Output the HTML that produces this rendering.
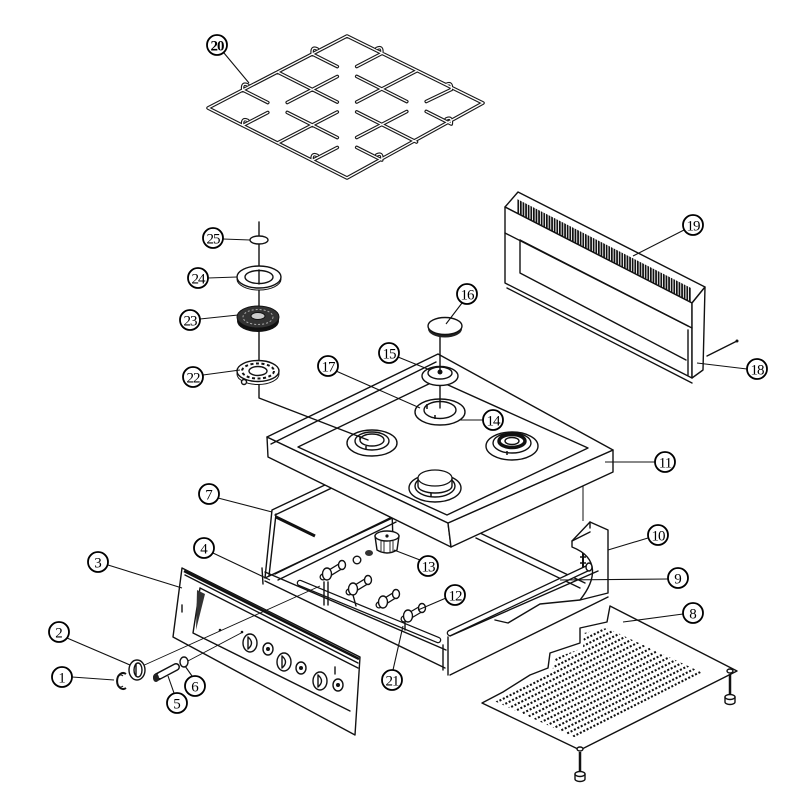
<!DOCTYPE html>
<html><head><meta charset="utf-8">
<style>
html,body{margin:0;padding:0;background:#fff;width:800px;height:800px;overflow:hidden}
svg{display:block}
.l{fill:none;stroke:#111;stroke-width:1.4;stroke-linejoin:round;stroke-linecap:round}
.w{fill:#fff;stroke:#111;stroke-width:1.4;stroke-linejoin:round}
.th{fill:none;stroke:#111;stroke-width:0.9}
.t{font-family:"Liberation Serif",serif;font-size:15px;text-anchor:middle;fill:#000}
.c{fill:#fff;stroke:#000;stroke-width:1.8}
</style></head><body>
<svg width="800" height="800" viewBox="0 0 800 800" xmlns="http://www.w3.org/2000/svg">
<defs>
 <pattern id="teeth" patternUnits="userSpaceOnUse" width="2.6" height="10"><rect width="1.7" height="10" fill="#111"/></pattern>
 <clipPath id="pc"><polygon points="607,628 720,681 585,742 492,700 505,694 532,680 552,672 555,658 583,648 584,633"/></clipPath>
 <path id="gr" d="M208,108 L347,36 L483,103 L347,178 Z
 M277.5,72 L337.3,102.1 M356.7,111.9 L416.5,142 M277.5,143 L337.3,112 M356.7,102 L416.5,71
 M242.75,90 L267.8,102.6 M287.2,112.4 L312.3,125 M242.75,125.5 L267.8,112.5 M287.2,102.5 L312.3,89.5
 M312.25,54 L337.3,66.6 M356.7,76.4 L381.75,89 M312.3,89.5 L337.3,76.5 M356.7,66.5 L381.75,53.5
 M312.3,125 L337.3,137.6 M356.7,147.4 L381.75,160 M312.25,160.5 L337.3,147.5 M356.7,137.5 L381.75,124.5
 M381.75,89 L406.8,101.6 M426.2,111.4 L451.25,124 M381.75,124.5 L406.8,111.5 M426.2,101.5 L451.25,89.5
 M242.75,90 q-1,-8 5,-5 M312.25,54 q-1,-8 5,-5 M381.75,53.5 q1,-8 -5,-5 M451.25,89.5 q1,-8 -5,-5
 M242.75,125.5 q-1,-8 5,-5 M312.25,160.5 q-1,-8 5,-5 M381.75,160 q1,-8 -5,-5 M451.25,124 q1,-8 -5,-5"/>
</defs>
<rect width="800" height="800" fill="#fff"/>

<!-- ===== GRATE 20 ===== -->
<use href="#gr" fill="none" stroke="#1a1a1a" stroke-width="3.6" stroke-linecap="round" stroke-linejoin="round"/>
<use href="#gr" fill="none" stroke="#fff" stroke-width="1.3" stroke-linecap="round" stroke-linejoin="round"/>

<!-- ===== BASE PLATE 8 ===== -->
<polygon class="w" points="610,606 737,671 580,750 482,703 503,692 530,675 548,668 550,653 580,643 580,628 607,622"/>
<g clip-path="url(#pc)">
 <g transform="translate(582,732) rotate(-26.9)" stroke="#111" stroke-width="2.1" stroke-dasharray="2 1.8" fill="none">
  <line x1="-200" y1="0" x2="200" y2="0"/>
  <line x1="-200" y1="-5.44" x2="200" y2="-5.44"/>
  <line x1="-200" y1="-10.88" x2="200" y2="-10.88"/>
  <line x1="-200" y1="-16.32" x2="200" y2="-16.32"/>
  <line x1="-200" y1="-21.76" x2="200" y2="-21.76"/>
  <line x1="-200" y1="-27.2" x2="200" y2="-27.2"/>
  <line x1="-200" y1="-32.64" x2="200" y2="-32.64"/>
  <line x1="-200" y1="-38.08" x2="200" y2="-38.08"/>
  <line x1="-200" y1="-43.52" x2="200" y2="-43.52"/>
  <line x1="-200" y1="-48.96" x2="200" y2="-48.96"/>
  <line x1="-200" y1="-54.4" x2="200" y2="-54.4"/>
  <line x1="-200" y1="-59.84" x2="200" y2="-59.84"/>
  <line x1="-200" y1="-65.28" x2="200" y2="-65.28"/>
  <line x1="-200" y1="-70.72" x2="200" y2="-70.72"/>
  <line x1="-200" y1="-76.16" x2="200" y2="-76.16"/>
  <line x1="-200" y1="-81.6" x2="200" y2="-81.6"/>
  <line x1="-200" y1="-87.04" x2="200" y2="-87.04"/>
  <line x1="-200" y1="-92.48" x2="200" y2="-92.48"/>
 </g>
</g>
<!-- feet -->
<line x1="730" y1="674" x2="730" y2="696" stroke="#111" stroke-width="2.5"/>
<ellipse cx="730" cy="671" rx="3" ry="2" class="w"/>
<path class="w" d="M725,697 L725,702 A5,2.5 0 0 0 735,702 L735,697 Z"/>
<ellipse cx="730" cy="697" rx="5" ry="2.5" class="w"/>
<line x1="580" y1="752" x2="580" y2="773" stroke="#111" stroke-width="2.5"/>
<ellipse cx="580" cy="749" rx="3" ry="2" class="w"/>
<path class="w" d="M575,774 L575,779 A5,2.5 0 0 0 585,779 L585,774 Z"/>
<ellipse cx="580" cy="774" rx="5" ry="2.5" class="w"/>

<!-- ===== LOWER BOX ===== -->
<polygon class="w" points="272,510 420,440 420,505 265,578"/>
<line class="l" x1="275" y1="515" x2="420" y2="446"/>
<line class="l" x1="276" y1="514" x2="269" y2="576"/>
<line x1="276" y1="517" x2="315" y2="536" stroke="#111" stroke-width="3"/>
<line class="l" x1="275" y1="574" x2="392" y2="517"/>
<line class="l" x1="278" y1="580" x2="396" y2="522"/>
<line class="l" x1="392" y1="512" x2="393" y2="540"/>
<!-- rail under cooktop right -->
<line class="l" x1="480" y1="533" x2="585" y2="583"/>
<line class="l" x1="476" y1="538" x2="580" y2="588"/>
<!-- bracket 10 -->
<path class="w" d="M572,541 L590,522 L608,530 L608,593 L580,600 C596,580 600,558 572,547 Z"/>
<line class="l" x1="590" y1="522" x2="590" y2="528"/>
<line class="l" x1="572" y1="541" x2="590" y2="532"/>
<path class="l" d="M495,620 L508,623 L540,604 L580,600"/>
<!-- screws near bracket -->
<line x1="583" y1="470" x2="583" y2="521" stroke="#111" stroke-width="1"/>
<circle cx="583" cy="470" r="1.5" fill="#111"/>
<line x1="583" y1="553" x2="583" y2="573" stroke="#111" stroke-width="2"/>
<line x1="580" y1="557" x2="586" y2="557" stroke="#111" stroke-width="1.5"/>
<line x1="580" y1="563" x2="586" y2="563" stroke="#111" stroke-width="1.5"/>
<!-- right front wall -->
<line class="l" x1="450" y1="636" x2="598" y2="571"/>
<line class="l" x1="450" y1="675" x2="608" y2="597"/>
<!-- pipe 9 -->
<line x1="450" y1="633" x2="588" y2="568" stroke="#111" stroke-width="6.5" stroke-linecap="round"/>
<line x1="450" y1="633" x2="588" y2="568" stroke="#fff" stroke-width="4" stroke-linecap="round"/>
<ellipse cx="589" cy="567" rx="3" ry="4" class="w"/>
<!-- manifold -->
<line x1="300" y1="583" x2="438" y2="640" stroke="#111" stroke-width="6.5" stroke-linecap="round"/>
<line x1="300" y1="583" x2="438" y2="640" stroke="#fff" stroke-width="4" stroke-linecap="round"/>
<!-- valves -->
<g>
 <line x1="323" y1="577" x2="341" y2="566" stroke="#111" stroke-width="7" stroke-linecap="round"/>
 <line x1="323" y1="577" x2="341" y2="566" stroke="#fff" stroke-width="4.5" stroke-linecap="round"/>
 <ellipse cx="342" cy="565" rx="3.5" ry="4.5" class="w"/>
 <ellipse cx="327" cy="574" rx="4.5" ry="6" class="w"/>
 <line class="l" x1="324" y1="582" x2="324" y2="605"/><line class="l" x1="328" y1="582" x2="328" y2="605"/>
 <line x1="349" y1="592" x2="367" y2="581" stroke="#111" stroke-width="7" stroke-linecap="round"/>
 <line x1="349" y1="592" x2="367" y2="581" stroke="#fff" stroke-width="4.5" stroke-linecap="round"/>
 <ellipse cx="368" cy="580" rx="3.5" ry="4.5" class="w"/>
 <ellipse cx="353" cy="589" rx="4.5" ry="6" class="w"/>
 <line class="l" x1="353" y1="595" x2="356" y2="606"/>
 <line x1="379" y1="605" x2="395" y2="595" stroke="#111" stroke-width="7" stroke-linecap="round"/>
 <line x1="379" y1="605" x2="395" y2="595" stroke="#fff" stroke-width="4.5" stroke-linecap="round"/>
 <ellipse cx="396" cy="594" rx="3.5" ry="4.5" class="w"/>
 <ellipse cx="383" cy="602" rx="4.5" ry="6" class="w"/>
 <line x1="404" y1="619" x2="421" y2="609" stroke="#111" stroke-width="7" stroke-linecap="round"/>
 <line x1="404" y1="619" x2="421" y2="609" stroke="#fff" stroke-width="4.5" stroke-linecap="round"/>
 <ellipse cx="422" cy="608" rx="3.5" ry="4.5" class="w"/>
 <ellipse cx="408" cy="616" rx="4.5" ry="6" class="w"/>
 <line class="l" x1="405" y1="622" x2="405" y2="630"/>
</g>
<!-- part 13 -->
<path class="w" d="M375,536 L377,550 Q387,556 397,550 L399,536 Z"/>
<ellipse cx="387" cy="536" rx="12" ry="5" class="w"/>
<g class="th"><line x1="381" y1="541" x2="381" y2="551"/><line x1="384" y1="541" x2="384" y2="553"/><line x1="390" y1="541" x2="390" y2="553"/><line x1="393" y1="541" x2="393" y2="551"/></g>
<circle cx="387" cy="536" r="1.6" fill="#111"/>
<ellipse cx="369" cy="553" rx="4" ry="3" fill="#333"/>
<circle cx="357" cy="560" r="3.8" class="w"/>
<!-- front rail -->
<line class="l" x1="265" y1="572" x2="446" y2="650"/>
<line class="l" x1="265" y1="581" x2="445" y2="668"/>
<line class="l" x1="262" y1="568" x2="263" y2="584"/>
<line class="l" x1="448" y1="637" x2="448" y2="675"/>
<line class="l" x1="443" y1="645" x2="443" y2="670"/>

<!-- ===== FRONT PANEL 3 ===== -->
<polygon class="w" points="182,568 360,657 355,735 173,637"/>
<line x1="184" y1="571" x2="359" y2="659" stroke="#111" stroke-width="2.5"/>
<line class="l" x1="185" y1="575" x2="358" y2="663"/>
<path class="l" d="M200,588 L358,668 M200,588 L193,633 L350,711"/>
<polygon points="197,590 205,594 196,630" fill="#333"/>
<line class="l" x1="182" y1="605" x2="182" y2="612"/>
<line class="l" x1="335" y1="667" x2="335" y2="674"/>
<circle cx="220" cy="630" r="1.3" fill="#111"/>
<circle cx="242" cy="632" r="1.3" fill="#111"/>
<g>
 <ellipse cx="250" cy="643" rx="7" ry="9" class="w" stroke-width="1.4"/><path class="l" d="M248,637 L248,649 M248,637 Q255,643 248,649"/>
 <ellipse cx="268" cy="649" rx="5" ry="6" class="w" stroke-width="1.8"/><circle cx="268" cy="649" r="2" fill="#111"/>
 <ellipse cx="284" cy="662" rx="7" ry="9" class="w" stroke-width="1.4"/><path class="l" d="M282,656 L282,668 M282,656 Q289,662 282,668"/>
 <ellipse cx="301" cy="668" rx="5" ry="6" class="w" stroke-width="1.8"/><circle cx="301" cy="668" r="2" fill="#111"/>
 <ellipse cx="320" cy="681" rx="7" ry="9" class="w" stroke-width="1.4"/><path class="l" d="M318,675 L318,687 M318,675 Q325,681 318,687"/>
 <ellipse cx="338" cy="685" rx="5" ry="6" class="w" stroke-width="1.8"/><circle cx="338" cy="685" r="2" fill="#111"/>
</g>
<!-- assembly lines -->
<line x1="140" y1="667" x2="320" y2="586" stroke="#111" stroke-width="0.9"/>
<line x1="186" y1="662" x2="243" y2="632" stroke="#111" stroke-width="0.9"/>
<!-- parts 1 2 5 6 -->
<ellipse cx="137" cy="670" rx="8" ry="10" class="w" stroke-width="1.6"/>
<ellipse cx="138" cy="670" rx="4" ry="7" class="l"/>
<line class="l" x1="136" y1="664" x2="136" y2="676"/>
<path d="M126,674 A6,8 0 1 0 126,688" fill="none" stroke="#111" stroke-width="2"/>
<path d="M123,676 A4,6 0 1 0 123,686" fill="none" stroke="#111" stroke-width="1"/>
<line x1="157" y1="677" x2="176" y2="667" stroke="#111" stroke-width="8" stroke-linecap="round"/>
<line x1="160" y1="675.5" x2="176" y2="667" stroke="#fff" stroke-width="5" stroke-linecap="round"/>
<ellipse cx="156" cy="678" rx="3" ry="4" fill="#222"/>
<ellipse cx="184" cy="662" rx="4" ry="5" class="w" stroke-width="2"/>

<!-- ===== COOKTOP 11 ===== -->
<polygon class="w" points="267,437 448,523 451,547 268,457"/>
<polygon class="w" points="448,523 613,450 613,472 451,547"/>
<polygon class="w" points="267,437 438,354 613,450 448,523"/>
<line class="l" x1="271" y1="444" x2="436" y2="362"/>
<path class="l" d="M298,447 L437,380 L588,448 L447,515 Z"/>
<!-- left burner -->
<ellipse cx="372" cy="443" rx="25" ry="13" class="w"/>
<ellipse cx="372" cy="441" rx="17" ry="9" class="w"/>
<ellipse cx="372" cy="440" rx="12" ry="6" class="l"/>
<line x1="366" y1="446" x2="366" y2="450" stroke="#111" stroke-width="1.5"/>
<line x1="360" y1="436" x2="360" y2="440" stroke="#111" stroke-width="1.5"/>
<!-- back burner 14 -->
<ellipse cx="440" cy="412" rx="25" ry="13" class="w"/>
<ellipse cx="440" cy="410" rx="16" ry="8.5" class="w"/>
<line x1="435" y1="415" x2="435" y2="419" stroke="#111" stroke-width="1.5"/>
<line x1="427" y1="404" x2="427" y2="409" stroke="#111" stroke-width="1.5"/>
<!-- right burner -->
<ellipse cx="512" cy="446" rx="26" ry="14" class="w"/>
<ellipse cx="512" cy="443" rx="19" ry="10" class="w"/>
<ellipse cx="512" cy="441" rx="13" ry="6.5" fill="none" stroke="#111" stroke-width="3.5"/>
<ellipse cx="512" cy="441" rx="7" ry="3.5" class="l"/>
<line x1="507" y1="451" x2="507" y2="455" stroke="#111" stroke-width="1.5"/>
<!-- front burner -->
<ellipse cx="435" cy="488" rx="26" ry="14" class="w"/>
<ellipse cx="435" cy="486" rx="20" ry="11" class="w"/>
<path class="w" d="M418,478 L418,486 A17,7 0 0 0 452,486 L452,478 Z"/>
<ellipse cx="435" cy="478" rx="17" ry="8" fill="#fff" stroke="#111" stroke-width="1.2"/>
<line x1="431" y1="493" x2="431" y2="497" stroke="#111" stroke-width="1.5"/>
<!-- burner 15 -->
<ellipse cx="440" cy="376" rx="18" ry="9.5" class="w" stroke-width="1.6"/>
<ellipse cx="440" cy="373" rx="12" ry="6" class="w"/>
<circle cx="440" cy="372" r="2.5" fill="#111"/>
<line class="l" x1="440" y1="334" x2="440" y2="370"/>
<line class="l" x1="440" y1="386" x2="440" y2="408"/>

<!-- ===== BURNER STACK ===== -->
<path class="l" d="M259,222 L259,398 L368,440" stroke-width="1"/>
<ellipse cx="259" cy="240" rx="9" ry="4" class="w"/>
<ellipse cx="259" cy="279" rx="22" ry="11" fill="#fff" stroke="#111" stroke-width="1"/>
<ellipse cx="259" cy="277" rx="22" ry="11" class="w"/>
<ellipse cx="259" cy="277" rx="14" ry="6.5" class="w"/>
<line class="l" x1="259" y1="270" x2="259" y2="284"/>
<ellipse cx="258" cy="321" rx="21" ry="11" fill="#111"/>
<ellipse cx="258" cy="317" rx="21" ry="11" fill="#333" stroke="#111"/>
<ellipse cx="258" cy="317" rx="15" ry="7.5" fill="none" stroke="#aaa" stroke-width="1" stroke-dasharray="2 2"/>
<ellipse cx="258" cy="316" rx="7" ry="3.5" fill="#ccc" stroke="#111"/>
<ellipse cx="258" cy="374" rx="21" ry="10.5" fill="#fff" stroke="#111" stroke-width="1"/>
<ellipse cx="258" cy="371" rx="21" ry="10.5" class="w" stroke-width="1.5"/>
<ellipse cx="258" cy="371" rx="16" ry="7.5" fill="none" stroke="#111" stroke-width="2" stroke-dasharray="3 2.5"/>
<ellipse cx="258" cy="371" rx="9" ry="4.5" class="w"/>
<circle cx="244" cy="382" r="2.5" class="w"/>
<!-- disc 16 -->
<ellipse cx="445" cy="329" rx="17" ry="8.5" fill="#222"/>
<ellipse cx="445" cy="326" rx="17" ry="8.5" class="w"/>

<!-- ===== BACK PANEL 19 ===== -->
<polygon class="w" points="505,207 518,192 705,287 692,303"/>
<polygon class="w" points="505,207 692,303 692,378 505,283"/>
<polygon class="w" points="692,303 705,287 703,370 692,378"/>
<polygon points="517,199 691,288 691,302 517,213" fill="url(#teeth)"/>
<line class="l" x1="505" y1="233" x2="692" y2="328"/>
<path class="l" d="M520,240 L688,326 M520,240 L520,273 L686,360"/>
<line class="l" x1="507" y1="288" x2="692" y2="383"/>
<line class="l" x1="688" y1="330" x2="688" y2="375"/>
<line class="l" x1="707" y1="356" x2="737" y2="341"/>
<circle cx="737" cy="341" r="1.5" fill="#111"/>

<!-- ===== LEADERS ===== -->
<g stroke="#111" stroke-width="1.1" fill="none">
 <line x1="224" y1="53" x2="249" y2="83"/>
 <line x1="223" y1="239" x2="250" y2="240"/>
 <line x1="208" y1="278" x2="237" y2="277"/>
 <line x1="200" y1="319" x2="238" y2="315"/>
 <line x1="203" y1="375" x2="240" y2="370"/>
 <line x1="462" y1="303" x2="446" y2="324"/>
 <line x1="398" y1="357" x2="430" y2="370"/>
 <line x1="336" y1="371" x2="420" y2="408"/>
 <line x1="483" y1="420" x2="460" y2="420"/>
 <line x1="684" y1="230" x2="633" y2="256"/>
 <line x1="747" y1="369" x2="697" y2="363"/>
 <line x1="655" y1="462" x2="605" y2="462"/>
 <line x1="218" y1="498" x2="272" y2="512"/>
 <line x1="648" y1="538" x2="608" y2="550"/>
 <line x1="420" y1="560" x2="394" y2="550"/>
 <line x1="213" y1="553" x2="270" y2="580"/>
 <line x1="668" y1="579" x2="560" y2="580"/>
 <line x1="108" y1="565" x2="182" y2="588"/>
 <line x1="446" y1="598" x2="418" y2="610"/>
 <line x1="683" y1="614" x2="623" y2="622"/>
 <line x1="67" y1="638" x2="130" y2="665"/>
 <line x1="72" y1="677" x2="114" y2="680"/>
 <line x1="192" y1="676" x2="185" y2="666"/>
 <line x1="174" y1="693" x2="168" y2="676"/>
 <line x1="393" y1="670" x2="403" y2="626"/>
</g>

<!-- ===== LABELS ===== -->
<g>
 <circle cx="217" cy="45" r="10" class="c" stroke-width="2.4"/><text x="217" y="50.5" class="t" font-weight="bold" letter-spacing="-1">20</text>
 <circle cx="213" cy="238" r="10" class="c"/><text x="213" y="243.5" class="t" letter-spacing="-1">25</text>
 <circle cx="198" cy="278" r="10" class="c"/><text x="198" y="283.5" class="t" letter-spacing="-1">24</text>
 <circle cx="190" cy="320" r="10" class="c"/><text x="190" y="325.5" class="t" letter-spacing="-1">23</text>
 <circle cx="193" cy="377" r="10" class="c"/><text x="193" y="382.5" class="t" letter-spacing="-1">22</text>
 <circle cx="467" cy="294" r="10" class="c"/><text x="467" y="299.5" class="t" letter-spacing="-1">16</text>
 <circle cx="389" cy="353" r="10" class="c"/><text x="389" y="358.5" class="t" letter-spacing="-1">15</text>
 <circle cx="328" cy="366" r="10" class="c"/><text x="328" y="371.5" class="t" letter-spacing="-1">17</text>
 <circle cx="493" cy="420" r="10" class="c"/><text x="493" y="425.5" class="t" letter-spacing="-1">14</text>
 <circle cx="693" cy="225" r="10" class="c"/><text x="693" y="230.5" class="t" letter-spacing="-1">19</text>
 <circle cx="757" cy="369" r="10" class="c"/><text x="757" y="374.5" class="t" letter-spacing="-1">18</text>
 <circle cx="665" cy="462" r="10" class="c"/><text x="665" y="467.5" class="t" letter-spacing="-1">11</text>
 <circle cx="209" cy="494" r="10" class="c"/><text x="209" y="499.5" class="t">7</text>
 <circle cx="658" cy="535" r="10" class="c"/><text x="658" y="540.5" class="t" letter-spacing="-1">10</text>
 <circle cx="428" cy="566" r="10" class="c"/><text x="428" y="571.5" class="t" letter-spacing="-1">13</text>
 <circle cx="204" cy="548" r="10" class="c"/><text x="204" y="553.5" class="t">4</text>
 <circle cx="678" cy="578" r="10" class="c"/><text x="678" y="583.5" class="t">9</text>
 <circle cx="98" cy="562" r="10" class="c"/><text x="98" y="567.5" class="t">3</text>
 <circle cx="455" cy="595" r="10" class="c"/><text x="455" y="600.5" class="t" letter-spacing="-1">12</text>
 <circle cx="693" cy="613" r="10" class="c"/><text x="693" y="618.5" class="t">8</text>
 <circle cx="59" cy="632" r="10" class="c"/><text x="59" y="637.5" class="t">2</text>
 <circle cx="62" cy="677" r="10" class="c"/><text x="62" y="682.5" class="t">1</text>
 <circle cx="195" cy="686" r="10" class="c"/><text x="195" y="691.5" class="t">6</text>
 <circle cx="177" cy="703" r="10" class="c"/><text x="177" y="708.5" class="t">5</text>
 <circle cx="392" cy="680" r="10" class="c"/><text x="392" y="685.5" class="t" letter-spacing="-1">21</text>
</g>
</svg>
</body></html>
